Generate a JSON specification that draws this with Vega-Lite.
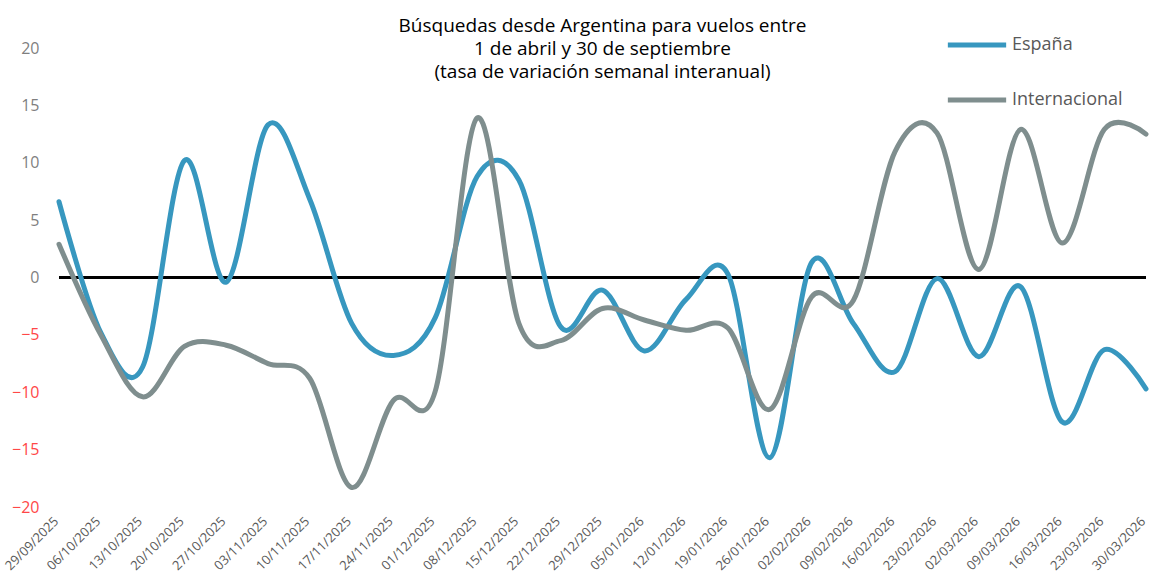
{
  "$schema": "https://vega.github.io/schema/vega-lite/v6.json",
  "autosize": "none",
  "width": 1087,
  "height": 459,
  "padding": {"left": 59, "top": 48, "right": 4, "bottom": 71},
  "background": "white",
  "title": {
    "text": ["Búsquedas desde Argentina para vuelos entre", "1 de abril y 30 de septiembre", "(tasa de variación semanal interanual)"],
    "anchor": "middle",
    "frame": "group",
    "font": "Open Sans",
    "fontSize": 19,
    "fontWeight": "normal",
    "color": "#000000",
    "lineHeight": 23,
    "offset": -69
  },
  "config": {
    "view": {"stroke": null},
    "font": "Open Sans"
  },
  "datasets": {
    "serie": [
      {"fecha": "29/09/2025", "espana": 6.6, "internacional": 2.9},
      {"fecha": "06/10/2025", "espana": -4.8, "internacional": -5.0},
      {"fecha": "13/10/2025", "espana": -7.8, "internacional": -10.4},
      {"fecha": "20/10/2025", "espana": 10.2, "internacional": -6.0},
      {"fecha": "27/10/2025", "espana": -0.4, "internacional": -5.9},
      {"fecha": "03/11/2025", "espana": 13.3, "internacional": -7.5},
      {"fecha": "10/11/2025", "espana": 6.8, "internacional": -8.8},
      {"fecha": "17/11/2025", "espana": -4.0, "internacional": -18.3},
      {"fecha": "24/11/2025", "espana": -6.8, "internacional": -10.7},
      {"fecha": "01/12/2025", "espana": -3.5, "internacional": -9.9},
      {"fecha": "08/12/2025", "espana": 8.8, "internacional": 13.9},
      {"fecha": "15/12/2025", "espana": 8.5, "internacional": -4.0},
      {"fecha": "22/12/2025", "espana": -4.3, "internacional": -5.5},
      {"fecha": "29/12/2025", "espana": -1.1, "internacional": -2.7},
      {"fecha": "05/01/2026", "espana": -6.4, "internacional": -3.7},
      {"fecha": "12/01/2026", "espana": -1.9, "internacional": -4.6},
      {"fecha": "19/01/2026", "espana": 0.3, "internacional": -4.4},
      {"fecha": "26/01/2026", "espana": -15.7, "internacional": -11.5},
      {"fecha": "02/02/2026", "espana": 1.3, "internacional": -1.7},
      {"fecha": "09/02/2026", "espana": -4.0, "internacional": -2.0},
      {"fecha": "16/02/2026", "espana": -8.2, "internacional": 11.0},
      {"fecha": "23/02/2026", "espana": -0.1, "internacional": 12.6},
      {"fecha": "02/03/2026", "espana": -6.9, "internacional": 0.7},
      {"fecha": "09/03/2026", "espana": -0.8, "internacional": 12.9},
      {"fecha": "16/03/2026", "espana": -12.6, "internacional": 3.0},
      {"fecha": "23/03/2026", "espana": -6.3, "internacional": 12.9},
      {"fecha": "30/03/2026", "espana": -9.7, "internacional": 12.5}
    ]
  },
  "data": {"name": "serie"},
  "layer": [
    {
      "mark": {"type": "rule", "color": "#000000", "strokeWidth": 2},
      "encoding": {"y": {"datum": 0, "type": "quantitative", "scale": {"domain": [-20, 20], "nice": false}}}
    },
    {
      "transform": [
        {"fold": ["espana", "internacional"], "as": ["clave", "valor"]},
        {"lookup": "clave", "from": {"data": {"values": [{"clave": "espana", "nombre": "España"}, {"clave": "internacional", "nombre": "Internacional"}]}, "key": "clave", "fields": ["nombre"]}}
      ],
      "mark": {"type": "line", "interpolate": "cardinal", "strokeWidth": 5, "strokeCap": "round"},
      "encoding": {
        "x": {
          "field": "fecha",
          "type": "ordinal",
          "sort": null,
          "scale": {"type": "point", "padding": 0},
          "axis": {
            "title": null,
            "labelAngle": -45,
            "labelAlign": "right",
            "labelBaseline": "middle",
            "labelFontSize": 13,
            "labelColor": "#595959",
            "labelPadding": 12,
            "labelOffset": -3,
            "ticks": false,
            "domain": false,
            "grid": false,
            "labelOverlap": false
          }
        },
        "y": {
          "field": "valor",
          "type": "quantitative",
          "scale": {"domain": [-20, 20], "nice": false},
          "axis": {
            "title": null,
            "values": [-20, -15, -10, -5, 0, 5, 10, 15, 20],
            "domain": false,
            "ticks": false,
            "labelPadding": 20,
            "labelFontSize": 16,
            "labelColor": {"condition": {"test": "datum.value < 0", "value": "#FF4747"}, "value": "#7F7F7F"},
            "gridColor": "#D9D9D9",
            "gridWidth": 1.5
          }
        },
        "color": {
          "field": "nombre",
          "type": "nominal",
          "scale": {"domain": ["España", "Internacional"], "range": ["#3797BF", "#7F8E8E"]},
          "legend": {
            "title": null,
            "orient": "none",
            "legendX": 886,
            "legendY": -35,
            "direction": "vertical",
            "symbolType": "stroke",
            "symbolStrokeWidth": 5,
            "symbolSize": 3400,
            "labelFontSize": 18,
            "labelColor": "#595959",
            "labelOffset": 3,
            "rowPadding": 13
          }
        }
      }
    }
  ]
}
